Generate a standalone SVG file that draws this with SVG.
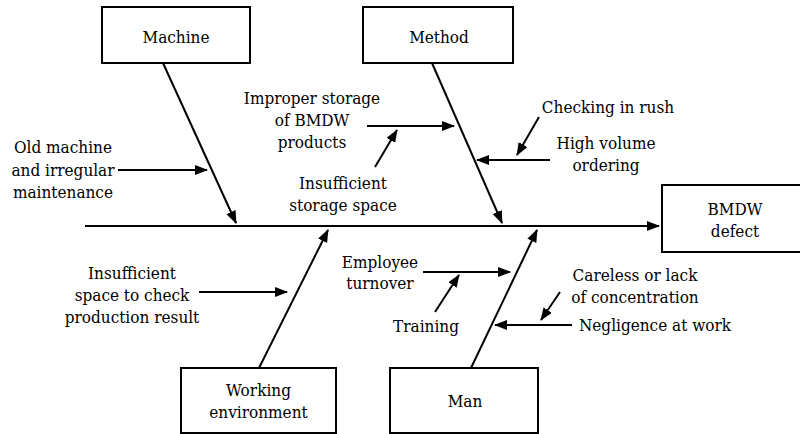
<svg xmlns="http://www.w3.org/2000/svg" width="800" height="434" viewBox="0 0 800 434">
<style>
rect{fill:#fff;stroke:#000;stroke-width:2}
line{stroke:#000;stroke-width:2}
text{font-family:'DejaVu Serif Condensed','DejaVu Serif',serif;font-stretch:condensed;font-size:17px;fill:#000;text-anchor:middle}
</style>
<defs>
<marker id="ah" markerUnits="userSpaceOnUse" markerWidth="14" markerHeight="12" refX="12" refY="5" orient="auto">
<path d="M0,0 L13,5 L0,10 z" fill="#000"/>
</marker>
</defs>
<g id="machine"><rect x="102" y="7" width="148" height="56"/><text x="176" y="43">Machine</text></g>
<g id="method"><rect x="363" y="7" width="150" height="56"/><text x="439" y="43">Method</text></g>
<g id="defect"><rect x="662" y="185" width="146" height="67"/><text x="735" y="215">BMDW</text><text x="735" y="237">defect</text></g>
<g id="environment"><rect x="181" y="368" width="155" height="65"/><text x="258.5" y="396">Working</text><text x="258.5" y="418">environment</text></g>
<g id="man"><rect x="390" y="368" width="148" height="65"/><text x="465" y="407">Man</text></g>
<g id="labels">
<text x="63" y="153">Old machine</text><text x="63" y="176">and irregular</text><text x="63" y="198">maintenance</text>
<text x="312" y="104">Improper storage</text><text x="312" y="126">of BMDW</text><text x="312" y="148">products</text>
<text x="343" y="189">Insufficient</text><text x="343" y="211">storage space</text>
<text x="608" y="113">Checking in rush</text>
<text x="606" y="149">High volume</text><text x="606" y="171">ordering</text>
<text x="132" y="279">Insufficient</text><text x="132" y="301">space to check</text><text x="132" y="323">production result</text>
<text x="380" y="268">Employee</text><text x="380" y="289">turnover</text>
<text x="426" y="332">Training</text>
<text x="635" y="281">Careless or lack</text><text x="635" y="303">of concentration</text>
<text x="655" y="331">Negligence at work</text>
</g>
<g id="connectors">
<line x1="85" y1="226" x2="659" y2="226" marker-end="url(#ah)"/>
<line x1="163" y1="63" x2="236" y2="223" marker-end="url(#ah)"/>
<line x1="432" y1="63" x2="502" y2="223" marker-end="url(#ah)"/>
<line x1="259" y1="368" x2="328" y2="230" marker-end="url(#ah)"/>
<line x1="471" y1="368" x2="537" y2="230" marker-end="url(#ah)"/>
<line x1="118" y1="170" x2="207" y2="170" marker-end="url(#ah)"/>
<line x1="367" y1="126" x2="454" y2="126" marker-end="url(#ah)"/>
<line x1="375" y1="167" x2="397" y2="130" marker-end="url(#ah)"/>
<line x1="539" y1="117" x2="517" y2="155" marker-end="url(#ah)"/>
<line x1="550" y1="160" x2="477" y2="160" marker-end="url(#ah)"/>
<line x1="199" y1="292" x2="287" y2="292" marker-end="url(#ah)"/>
<line x1="423" y1="272" x2="510" y2="272" marker-end="url(#ah)"/>
<line x1="435" y1="312" x2="459" y2="275" marker-end="url(#ah)"/>
<line x1="560" y1="292" x2="541" y2="320" marker-end="url(#ah)"/>
<line x1="572" y1="325" x2="495" y2="325" marker-end="url(#ah)"/>
</g>
</svg>
